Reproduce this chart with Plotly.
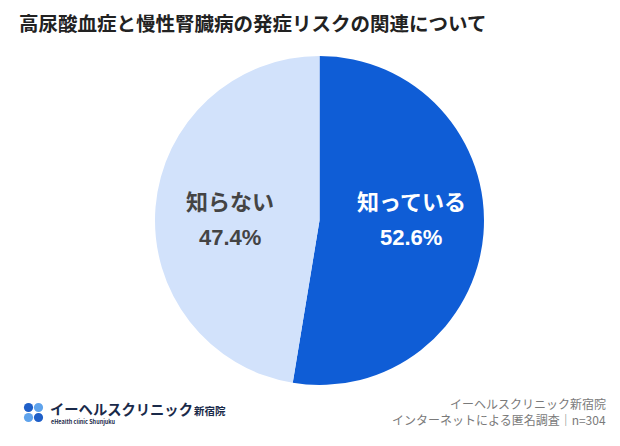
import plotly.graph_objects as go

title = "高尿酸血症と慢性腎臓病の発症リスクの関連について"
labels = ["知っている", "知らない"]
values = [52.6, 47.4]
colors = ["#0F5DD6", "#D2E2FB"]
text_colors = ["#FFFFFF", "#444444"]
source_lines = ["イーヘルスクリニック新宿院", "インターネットによる匿名調査｜n=304"]
logo_main = "イーヘルスクリニック"
logo_sub = "新宿院"
logo_en = "eHealth clinic Shunjuku"

W, H = 620, 446
FONT = "Noto Sans CJK JP"
NUMFONT = "Liberation Sans, Noto Sans CJK JP"

fig = go.Figure()
fig.add_trace(go.Pie(
    labels=labels, values=values, sort=False, direction="clockwise", rotation=0,
    marker=dict(colors=colors, line=dict(width=0)),
    textinfo="none", hoverinfo="label+percent", showlegend=False,
    domain=dict(x=[155/W, 484/W], y=[(H-385)/H, (H-56)/H]),
))

annos = []
annos.append(dict(text=f"<b>{title}</b>", x=17/W, y=1-22/H, xref="paper", yref="paper",
                  xanchor="left", yanchor="middle", showarrow=False,
                  font=dict(family=FONT, size=19.5, color="#222222")))
label_pos = [(411, 218), (230, 218)]
for lab, v, tc, (px, py) in zip(labels, values, text_colors, label_pos):
    annos.append(dict(text=f"<b>{lab}</b>", x=px/W, y=1-200/H, xref="paper", yref="paper",
                      xanchor="center", yanchor="middle", showarrow=False,
                      font=dict(family=FONT, size=22, color=tc)))
    annos.append(dict(text=f"<b>{v:.1f}%</b>", x=px/W, y=1-237/H, xref="paper", yref="paper",
                      xanchor="center", yanchor="middle", showarrow=False,
                      font=dict(family=NUMFONT, size=22, color=tc)))
for i, line in enumerate(source_lines):
    annos.append(dict(text=line, x=608/W, y=1-(403+16*i)/H, xref="paper", yref="paper",
                      xanchor="right", yanchor="middle", showarrow=False,
                      font=dict(family=FONT, size=12, color="#7a7a7a")))
annos.append(dict(text=f"<b>{logo_main}</b>", x=48/W, y=1-408/H, xref="paper", yref="paper",
                  xanchor="left", yanchor="middle", showarrow=False,
                  font=dict(family=FONT, size=14.3, color="#1a2a4a")))
annos.append(dict(text=f"<b>{logo_sub}</b>", x=192/W, y=1-410/H, xref="paper", yref="paper",
                  xanchor="left", yanchor="middle", showarrow=False,
                  font=dict(family=FONT, size=10.5, color="#1a2a4a")))
annos.append(dict(text=f"<b>{logo_en}</b>", x=49/W, y=1-422/H, xref="paper", yref="paper",
                  xanchor="left", yanchor="middle", showarrow=False,
                  font=dict(family=FONT, size=5.5, color="#1a2a4a")))

shapes = []
circ = [(28.5, 407.5, "#1F5FC8"), (38.5, 407.5, "#5FA3EC"), (28.5, 417.5, "#5FA3EC"), (38.5, 417.5, "#1F5FC8")]
r = 4.6
for cx, cy, c in circ:
    shapes.append(dict(type="circle", xref="paper", yref="paper",
                       x0=(cx-r)/W, x1=(cx+r)/W, y0=1-(cy+r)/H, y1=1-(cy-r)/H,
                       fillcolor=c, line=dict(width=0)))

fig.update_layout(width=W, height=H, margin=dict(l=0, r=0, t=0, b=0),
                  paper_bgcolor="white", plot_bgcolor="white",
                  annotations=annos, shapes=shapes, font=dict(family=FONT))
fig.write_html("out.html")
